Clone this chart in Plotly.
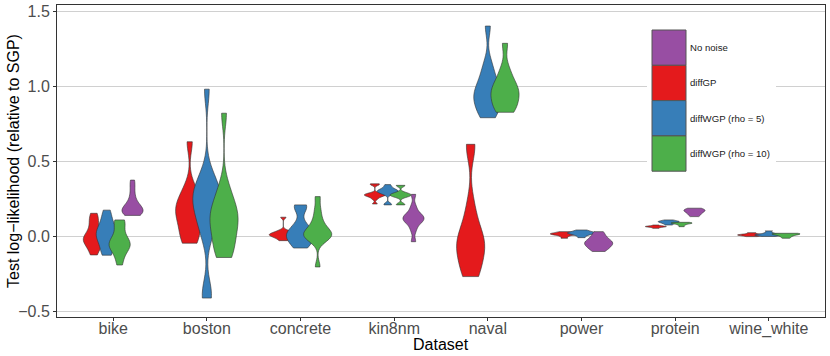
import numpy as np
import plotly.graph_objects as go

DATASETS = ['bike', 'boston', 'concrete', 'kin8nm', 'naval', 'power', 'protein', 'wine_white']

# test log-likelihood relative to SGP, runs per dataset (None = method not run)
diff_gp = [
    [-0.123, -0.09, -0.06, -0.04, -0.03, -0.02, -0.01, 0.0, 0.02, 0.05, 0.09, 0.12, 0.154],
    [-0.045, -0.02, 0.03, 0.08, 0.12, 0.15, 0.18, 0.2, 0.23, 0.27, 0.33, 0.63],
    [-0.028, -0.015, -0.005, 0.0, 0.005, 0.01, 0.014, 0.018, 0.022, 0.03, 0.04, 0.128],
    [0.216, 0.25, 0.265, 0.27, 0.275, 0.278, 0.282, 0.288, 0.345, 0.35],
    [-0.267, -0.25, -0.2, -0.15, -0.1, -0.07, -0.05, -0.03, 0.0, 0.05, 0.12, 0.22, 0.59, 0.613],
    [-0.012, 0.0, 0.008, 0.012, 0.015, 0.017, 0.019, 0.022, 0.026, 0.032],
    [0.054, 0.06, 0.063, 0.065, 0.066, 0.068, 0.07, 0.076],
    [-0.001, 0.004, 0.007, 0.009, 0.011, 0.013, 0.017, 0.025],
]
diff_wgp_rho5 = [
    [-0.125, -0.1, -0.06, -0.03, -0.01, 0.01, 0.02, 0.04, 0.06, 0.09, 0.13, 0.175],
    [-0.41, -0.37, 0.0, 0.07, 0.13, 0.18, 0.22, 0.25, 0.28, 0.31, 0.35, 0.42, 0.98],
    [-0.077, -0.06, -0.04, -0.02, -0.005, 0.005, 0.015, 0.025, 0.04, 0.06, 0.09, 0.185, 0.2, 0.21],
    [0.21, 0.216, 0.28, 0.288, 0.294, 0.298, 0.302, 0.306, 0.31, 0.318, 0.33, 0.345],
    [0.79, 0.82, 0.86, 0.89, 0.92, 0.94, 0.96, 0.99, 1.03, 1.08, 1.15, 1.4],
    [-0.008, 0.005, 0.012, 0.018, 0.021, 0.023, 0.026, 0.03, 0.036, 0.043],
    [0.076, 0.085, 0.09, 0.095, 0.098, 0.1, 0.103, 0.11],
    [0.0, 0.005, 0.008, 0.01, 0.012, 0.016, 0.024, 0.037],
]
diff_wgp_rho10 = [
    [-0.19, -0.14, -0.1, -0.08, -0.065, -0.055, -0.045, -0.03, -0.01, 0.02, 0.07, 0.1, 0.11],
    [-0.14, -0.11, -0.06, -0.01, 0.04, 0.08, 0.11, 0.14, 0.17, 0.21, 0.26, 0.34, 0.82],
    [-0.203, -0.03, -0.01, 0.0, 0.01, 0.02, 0.03, 0.05, 0.08, 0.12, 0.18, 0.265],
    [0.21, 0.215, 0.262, 0.268, 0.272, 0.276, 0.28, 0.285, 0.292, 0.338, 0.34],
    [0.826, 0.84, 0.87, 0.9, 0.93, 0.95, 0.97, 0.99, 1.02, 1.06, 1.12, 1.285],
    None,
    [0.065, 0.075, 0.082, 0.086, 0.088, 0.09, 0.092, 0.094],
    [-0.012, -0.004, 0.003, 0.008, 0.012, 0.015, 0.017, 0.019, 0.02, 0.021],
]
no_noise = [
    [0.14, 0.145, 0.155, 0.165, 0.17, 0.18, 0.19, 0.2, 0.215, 0.24, 0.28, 0.33, 0.375],
    None,
    None,
    [-0.035, 0.04, 0.08, 0.1, 0.11, 0.12, 0.13, 0.14, 0.16, 0.2, 0.28],
    None,
    [-0.1, -0.085, -0.07, -0.06, -0.05, -0.042, -0.035, -0.025, -0.01, 0.01, 0.032],
    [0.132, 0.14, 0.15, 0.158, 0.164, 0.17, 0.174, 0.178, 0.182, 0.188],
    None,
]

Y_TICKS = [-0.5, 0.0, 0.5, 1.0, 1.5]
Y_TICK_TEXT = ['\u22120.5', '0.0', '0.5', '1.0', '1.5']

# drawing / dodge order (left to right)
METHODS = [
    ('diffGP', diff_gp, '#E41A1C'),
    ('diffWGP (rho = 5)', diff_wgp_rho5, '#377EB8'),
    ('diffWGP (rho = 10)', diff_wgp_rho10, '#4DAF4A'),
    ('No noise', no_noise, '#984EA3'),
]
LEGEND_ORDER = ['No noise', 'diffGP', 'diffWGP (rho = 5)', 'diffWGP (rho = 10)']

DODGE = 0.55
VIOLIN_W = 0.9
FONT = 'Liberation Sans, Arial, sans-serif'


def nrd0(v):
    # R's default bandwidth, like ggplot's geom_violin
    v = np.asarray(v, dtype=float)
    sd = v.std(ddof=1)
    q25, q75 = np.percentile(v, [25, 75])
    lo = min(sd, (q75 - q25) / 1.34)
    if lo <= 0:
        lo = sd
    return 0.9 * lo * len(v) ** -0.2


fig = go.Figure()
for i, ds in enumerate(DATASETS):
    present = [(name, vals[i], col) for name, vals, col in METHODS if vals[i] is not None]
    n = len(present)
    for k, (name, vals, col) in enumerate(present):
        fig.add_trace(go.Violin(
            x0=i + (k - (n - 1) / 2) * DODGE / n,
            y=vals,
            name=name,
            width=VIOLIN_W / n,
            spanmode='hard',
            bandwidth=nrd0(vals),
            points=False,
            fillcolor=col,
            line=dict(color='#333333', width=0.6),
            opacity=1,
            showlegend=False,
            hoveron='violins',
        ))

# ggplot-style legend inside the panel, large keys
colors = {name: col for name, _, col in METHODS}
PX_X0, PX_W = 57, 768
PX_Y0, PX_H = 5, 312


def px(x):
    return (x - PX_X0) / PX_W


def py(y):
    return 1 - (y - PX_Y0) / PX_H


shapes = [dict(type='rect', xref='paper', yref='paper', x0=px(647), x1=px(776),
               y0=py(177), y1=py(24), fillcolor='white', line=dict(width=0), layer='above')]
annotations = []
row_h = 35.3
for r, name in enumerate(LEGEND_ORDER):
    top = 30 + r * row_h
    shapes.append(dict(type='rect', xref='paper', yref='paper', x0=px(652), x1=px(686),
                       y0=py(top + row_h), y1=py(top), fillcolor=colors[name],
                       line=dict(color='#555555', width=1), layer='above'))
    annotations.append(dict(xref='paper', yref='paper', x=px(688), y=py(top + row_h / 2),
                            text=name, showarrow=False, xanchor='left', yanchor='middle',
                            font=dict(size=9.6, color='#1a1a1a')))

# axis titles
annotations.append(dict(xref='paper', yref='paper', x=px(441), y=py(344), text='Dataset',
                        showarrow=False, xanchor='center', yanchor='middle',
                        font=dict(size=16, color='black')))
annotations.append(dict(xref='paper', yref='paper', x=px(13), y=py(161),
                        text='Test log\u2212likelihood (relative to SGP)', textangle=-90,
                        showarrow=False, xanchor='center', yanchor='middle',
                        font=dict(size=16, color='black')))

fig.update_layout(
    width=830, height=356,
    margin=dict(l=57, r=5, t=5, b=39, autoexpand=False),
    paper_bgcolor='white', plot_bgcolor='white',
    font=dict(family=FONT),
    showlegend=False,
    shapes=shapes,
    annotations=annotations,
)
fig.update_xaxes(
    range=[-0.6, len(DATASETS) - 0.4], automargin=False,
    tickvals=list(range(len(DATASETS))), ticktext=DATASETS,
    ticks='outside', ticklen=3, tickcolor='#333333', ticklabelstandoff=-6,
    tickfont=dict(size=16, color='#4d4d4d'),
    showgrid=False, zeroline=False,
    showline=True, linecolor='#333333', linewidth=1, mirror=True,
)
fig.update_yaxes(
    range=[-0.536, 1.54], automargin=False,
    tickvals=Y_TICKS, ticktext=Y_TICK_TEXT,
    ticks='outside', ticklen=3, tickcolor='#333333',
    tickfont=dict(size=16, color='#4d4d4d'),
    showgrid=True, gridcolor='#d0d0d0', gridwidth=1, zeroline=False,
    showline=True, linecolor='#333333', linewidth=1, mirror=True,
)

# page body has a default margin; drop it so the figure fills the window
fig.write_html('out.html', config={'displayModeBar': False},
               post_script="document.body.style.margin='0';")
